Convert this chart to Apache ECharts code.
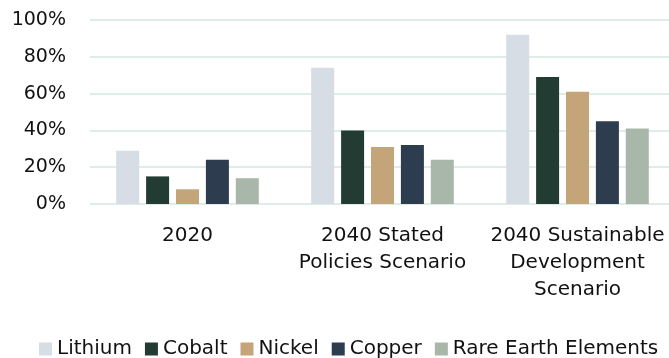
<!DOCTYPE html>
<html>
<head>
<meta charset="utf-8">
<style>
  html, body { margin: 0; padding: 0; background: #ffffff; }
  #chart { width: 669px; height: 358px; }
</style>
<script src="https://cdn.jsdelivr.net/npm/echarts@6/dist/echarts.min.js"></script>
</head>
<body>
<div id="chart"></div>
<script>
// Scenario groups along the x axis (line breaks are part of the label layout)
const categories = ['2020', '2040 Stated\nPolicies Scenario', '2040 Sustainable\nDevelopment\nScenario'];

// Share of demand per mineral, in percent
const lithium = [29, 74, 92];
const cobalt = [15, 40, 69];
const nickel = [8, 31, 61];
const copper = [24, 32, 45];
const rareEarth = [14, 24, 41];

const yTicks = [0, 20, 40, 60, 80, 100];

const seriesDefs = [
  { name: 'Lithium', data: lithium, color: '#d6dde4' },
  { name: 'Cobalt', data: cobalt, color: '#223c34' },
  { name: 'Nickel', data: nickel, color: '#c4a57a' },
  { name: 'Copper', data: copper, color: '#2d3c4f' },
  { name: 'Rare Earth Elements', data: rareEarth, color: '#a9b6aa' }
];

const FONT = '"DejaVu Sans", sans-serif';

const chart = echarts.init(document.getElementById('chart'), null, { renderer: 'canvas' });

chart.setOption({
  animation: false,
  backgroundColor: '#ffffff',
  grid: { left: 90, top: 20, width: 585, height: 184, containLabel: false, outerBoundsMode: 'none' },
  legend: {
    left: 34,
    top: 334,
    itemWidth: 13,
    itemHeight: 13,
    itemGap: 13,
    icon: 'rect',
    textStyle: { fontFamily: FONT, fontSize: 20, color: '#111111' },
    data: seriesDefs.map(s => s.name)
  },
  xAxis: {
    type: 'category',
    data: categories,
    axisLine: { show: false },
    axisTick: { show: false },
    axisLabel: {
      margin: 18,
      fontFamily: FONT,
      fontSize: 20,
      lineHeight: 27,
      color: '#111111',
      align: 'center',
      interval: 0
    }
  },
  yAxis: {
    type: 'value',
    min: yTicks[0],
    max: yTicks[yTicks.length - 1],
    interval: yTicks[1] - yTicks[0],
    axisLine: { show: false },
    axisTick: { show: false },
    axisLabel: {
      margin: 24,
      fontFamily: FONT,
      fontSize: 19,
      color: '#111111',
      formatter: v => v + '%'
    },
    splitLine: { lineStyle: { color: '#d5e7e0', width: 1.5 } }
  },
  series: seriesDefs.map(s => ({
    name: s.name,
    type: 'bar',
    data: s.data,
    barWidth: 23,
    barGap: '30%',
    itemStyle: { color: s.color }
  }))
});
</script>
</body>
</html>
